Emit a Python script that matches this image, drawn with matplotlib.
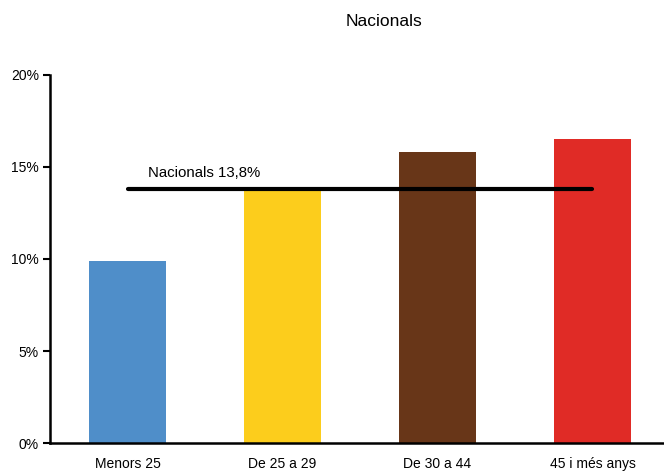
import matplotlib
matplotlib.use("Agg")
import matplotlib.pyplot as plt
from matplotlib.ticker import FuncFormatter

categories = ["Menors 25", "De 25 a 29", "De 30 a 44", "45 i més anys"]
values = [9.9, 13.8, 15.8, 16.5]
colors = ["#4f8ec9", "#fccd1c", "#683618", "#e02b26"]
national_value = 13.8
national_label = "Nacionals 13,8%"
title = "Nacionals"
yticks = [0, 5, 10, 15, 20]

plt.rcParams['font.family'] = ['Liberation Sans', 'DejaVu Sans']

fig = plt.figure(figsize=(6.64, 4.73), dpi=100)
W, H = 664, 473
ax = fig.add_axes([50 / W, 30 / H, 620 / W, 368 / H])

x = list(range(len(categories)))
ax.bar(x, values, width=0.5, color=colors, zorder=2)
ax.plot([x[0], x[-1]], [national_value, national_value], color="black", lw=3,
        solid_capstyle="round", zorder=3)
ax.text(x[0] + 0.13, national_value + 0.5, national_label, fontsize=10.8, ha="left", va="bottom")

ax.set_xlim(-0.5, 3.5)
ax.set_ylim(0, 20)
ax.set_yticks(yticks)
ax.yaxis.set_major_formatter(FuncFormatter(lambda v, p: f"{int(v)}%"))
ax.set_xticks(x)
ax.set_xticklabels(categories, fontsize=10)
ax.tick_params(axis="x", length=0, pad=10)
ax.tick_params(axis="y", length=5, width=1.5, labelsize=10, direction="out", pad=3)
for s in ["top", "right"]:
    ax.spines[s].set_visible(False)
ax.spines["left"].set_linewidth(1.8)
ax.spines["bottom"].set_linewidth(1.8)

fig.text(384 / W, 1 - 21 / H, title, fontsize=12.5, ha="center", va="center")

fig.savefig("out.png", dpi=100)
